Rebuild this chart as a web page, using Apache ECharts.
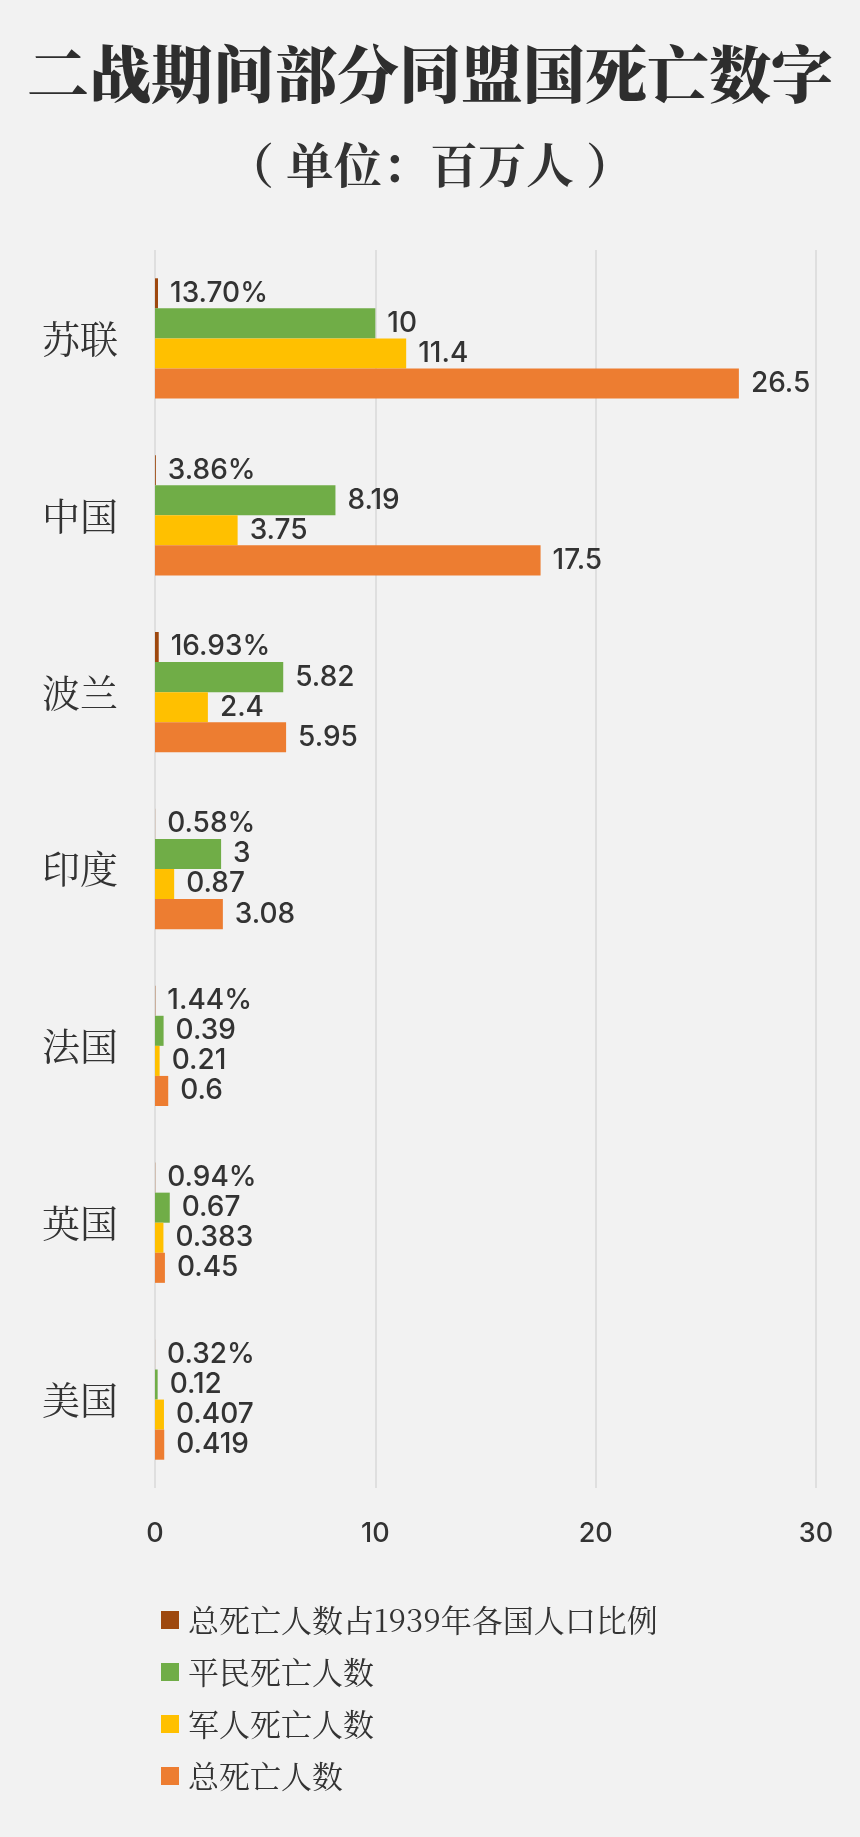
<!DOCTYPE html>
<html>
<head>
<meta charset="utf-8">
<script src="https://cdn.jsdelivr.net/npm/echarts@6/dist/echarts.min.js"></script>
<style>
html,body{margin:0;padding:0;background:#f2f2f2;}
#chart{width:860px;height:1837px;}
</style>
</head>
<body>
<div id="chart"></div>
<script>
const categories = ['苏联', '中国', '波兰', '印度', '法国', '英国', '美国'];
const seriesNames = ['总死亡人数占1939年各国人口比例', '平民死亡人数', '军人死亡人数', '总死亡人数'];
const deathRatio = [0.1370, 0.0386, 0.1693, 0.0058, 0.0144, 0.0094, 0.0032];
const civilianDeaths = [10, 8.19, 5.82, 3, 0.39, 0.67, 0.12];
const militaryDeaths = [11.4, 3.75, 2.4, 0.87, 0.21, 0.383, 0.407];
const totalDeaths = [26.5, 17.5, 5.95, 3.08, 0.6, 0.45, 0.419];
const xTicks = [0, 10, 20, 30];

const colors = ['#9e480e', '#70ad47', '#ffc000', '#ed7d31'];
const cjk = '"Noto Serif CJK SC", "Noto Sans CJK SC", serif';
const numFont = 'Inter, Roboto, sans-serif';
const labelStyle = {
  show: true,
  position: 'right',
  distance: 12,
  fontFamily: numFont,
  fontWeight: 500,
  fontSize: 28,
  color: '#333333'
};

const chart = echarts.init(document.getElementById('chart'));
const dataSets = [deathRatio, civilianDeaths, militaryDeaths, totalDeaths];
const series = dataSets.map((d, i) => ({
  name: seriesNames[i],
  type: 'bar',
  data: d,
  barGap: '0%',
  barCategoryGap: '32%',
  itemStyle: { color: colors[i] },
  label: i === 0
    ? Object.assign({}, labelStyle, { formatter: p => (p.value * 100).toFixed(2) + '%' })
    : labelStyle
}));

chart.setOption({
  backgroundColor: '#f2f2f2',
  animation: false,
  title: [
    {
      text: '二战期间部分同盟国死亡数字',
      left: 'center',
      top: 38,
      textStyle: { fontFamily: cjk, fontWeight: 900, fontSize: 62, color: '#2e2e2e' }
    },
    {
      text: '（ 单位：百万人 ）',
      left: 'center',
      top: 136,
      textStyle: { fontFamily: cjk, fontWeight: 'bold', fontSize: 48, color: '#333333' }
    }
  ],
  legend: {
    orient: 'vertical',
    left: 156,
    top: 1597,
    itemWidth: 18,
    itemHeight: 18,
    itemGap: 16,
    icon: 'rect',
    data: seriesNames,
    textStyle: { fontFamily: cjk, fontSize: 31, color: '#333333', lineHeight: 36, padding: [0, 0, 0, 4] }
  },
  grid: { left: 155, right: 44, top: 250, bottom: 349, containLabel: false },
  xAxis: {
    type: 'value',
    min: xTicks[0],
    max: xTicks[xTicks.length - 1],
    interval: xTicks[1] - xTicks[0],
    axisLine: { show: false },
    axisTick: { show: false },
    splitLine: { lineStyle: { color: '#d9d9d9', width: 1.5 } },
    axisLabel: { margin: 32, fontFamily: numFont, fontWeight: 500, fontSize: 27, color: '#333333' }
  },
  yAxis: {
    type: 'category',
    data: categories,
    inverse: true,
    axisLine: { show: false },
    axisTick: { show: false },
    axisLabel: { margin: 37, fontFamily: cjk, fontSize: 38, color: '#333333' }
  },
  series: series
});
</script>
</body>
</html>
